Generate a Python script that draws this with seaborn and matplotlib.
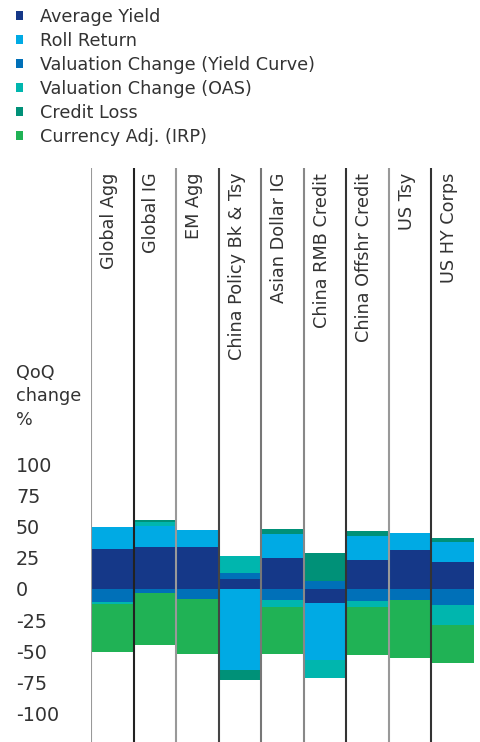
import numpy as np
import pandas as pd
import seaborn as sns
import matplotlib.pyplot as plt
from matplotlib.patches import Patch

categories = ['Global Agg', 'Global IG', 'EM Agg', 'China Policy Bk & Tsy',
              'Asian Dollar IG', 'China RMB Credit', 'China Offshr Credit',
              'US Tsy', 'US HY Corps']

# QoQ change components, in stacking order
average_yield = [32.2, 33.8, 33.8, 8.0, 24.9, -11.2, 23.3, 31.3, 21.7]
roll_return = [17.4, 16.8, 13.6, -65.0, 19.3, -45.9, 19.3, 13.7, 16.1]
val_yield_curve = [-10.5, -3.2, -8.0, 4.9, -8.8, 6.4, -9.6, -8.8, -12.9]
val_oas = [-1.3, 3.3, 0.0, 13.6, -5.7, -14.4, -4.9, 0.0, -16.0]
credit_loss = [0.0, 1.6, 0.0, -8.2, 4.0, 22.5, 4.0, 0.0, 3.2]
currency_adj = [-38.6, -41.8, -44.2, 0.0, -37.7, 0.0, -38.6, -46.7, -30.6]

series_names = ['Average Yield', 'Roll Return', 'Valuation Change (Yield Curve)',
                'Valuation Change (OAS)', 'Credit Loss', 'Currency Adj. (IRP)']
series_vals = [average_yield, roll_return, val_yield_curve, val_oas,
               credit_loss, currency_adj]
colors = ['#153888', '#00AAE4', '#0070B8', '#00B6AE', '#009178', '#20B255']

yticks = [100, 75, 50, 25, 0, -25, -50, -75, -100]

sns.set_style('white')
plt.rcParams['font.family'] = ['DejaVu Sans']
txt_color = '#333333'
fs = 12.7

fig = plt.figure(figsize=(4.8, 7.42), dpi=100)
ax = fig.add_axes([91 / 480, 0, 383 / 480, 574 / 742])

vals = np.array(series_vals)
pos_cum = np.cumsum(np.clip(vals, 0, None), axis=0)
neg_cum = np.cumsum(np.clip(vals, None, 0), axis=0)

# diverging stack: draw cumulative bars from outermost to innermost
for k in range(len(series_names) - 1, -1, -1):
    for cum in (pos_cum, neg_cum):
        df = pd.DataFrame({'cat': categories, 'v': cum[k]})
        sns.barplot(data=df, x='cat', y='v', order=categories, color=colors[k],
                    saturation=1, width=1.0, errorbar=None, linewidth=0, ax=ax)

line_cols = ['#999999', '#222222', '#999999', '#444444', '#777777',
             '#888888', '#333333', '#999999', '#333333']
for i, c in enumerate(line_cols):
    ax.axvline(i - 0.5, color=c, lw=1.5, zorder=5)

ax.set_xlim(-0.5, len(categories) - 0.5)
ax.set_ylim(-123, 338.4)
ax.set_xlabel('')
ax.set_ylabel('')
ax.set_xticks([])
ax.set_yticks(yticks)
ax.set_yticklabels([str(t) for t in yticks], fontsize=13.8, color=txt_color, ha='left')
ax.tick_params(axis='y', length=0, pad=54)
sns.despine(ax=ax, left=True, bottom=True)

for i, lab in enumerate(categories):
    ax.text(i - 0.08, 334.5, lab, rotation=90, ha='center', va='top',
            fontsize=fs, color=txt_color)

fig.text(16 / 480, 1 - 364 / 742, 'QoQ\nchange\n%', ha='left', va='top',
         fontsize=fs, color=txt_color, linespacing=1.38)

handles = [Patch(facecolor=c, edgecolor='none') for c in colors]
fig.legend(handles, series_names, loc='upper left', bbox_to_anchor=(16 / 480, 1 - 8 / 742),
           frameon=False, fontsize=fs, handlelength=0.38, handleheight=0.38,
           handletextpad=0.96, labelspacing=0.34, borderaxespad=0, borderpad=0,
           labelcolor=txt_color)

plt.savefig('out.png', dpi=100)
